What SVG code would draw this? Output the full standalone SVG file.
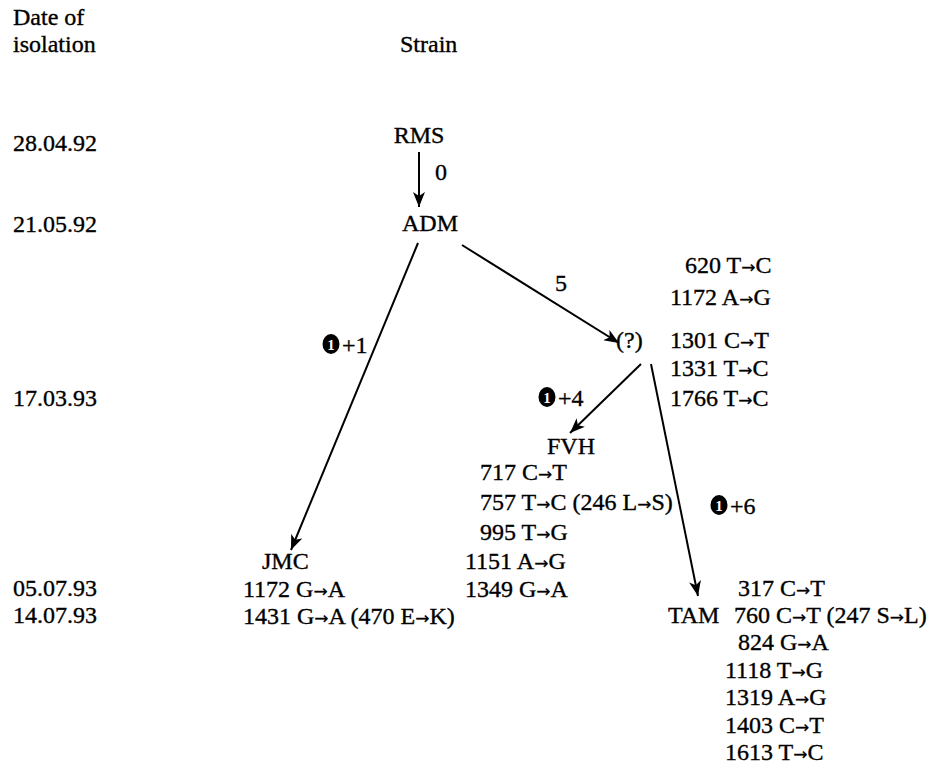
<svg xmlns="http://www.w3.org/2000/svg" width="931" height="765" viewBox="0 0 931 765">
<style>
text{font-family:"Liberation Serif","Times New Roman",serif;font-size:24px;fill:#000;stroke:#000;stroke-width:0.35}
.c{text-anchor:middle}
.a{font-family:"DejaVu Sans",sans-serif;font-size:17px;stroke-width:0.2}
.e{stroke:#000;stroke-width:2;fill:none;marker-end:url(#ah)}
.dot{fill:#000}
.w{fill:#fff;stroke:none;font-size:15px;font-weight:bold;text-anchor:middle}
</style>
<defs>
<marker id="ah" markerWidth="16" markerHeight="12" refX="15" refY="6" orient="auto" markerUnits="userSpaceOnUse">
<path d="M0,0 L15,6 L0,12 L4,6 z" fill="#000"/>
</marker>
</defs>
<rect width="931" height="765" fill="#fff"/>
<g id="headers">
<text x="13" y="25">Date of</text>
<text x="13" y="52">isolation</text>
<text x="400" y="52">Strain</text>
</g>
<g id="dates">
<text x="13" y="151">28.04.92</text>
<text x="13" y="232">21.05.92</text>
<text x="13" y="406">17.03.93</text>
<text x="13" y="596">05.07.93</text>
<text x="13" y="623">14.07.93</text>
</g>
<g id="connectors">
<line class="e" x1="419" y1="152" x2="419" y2="207"/>
<line class="e" x1="418" y1="243" x2="291" y2="550"/>
<line class="e" x1="462" y1="245" x2="619" y2="343"/>
<line class="e" x1="641" y1="364" x2="570" y2="433"/>
<line class="e" x1="651" y1="364" x2="698" y2="596"/>
<text x="435" y="180">0</text>
<text x="555" y="291">5</text>
<g id="lbl1"><ellipse class="dot" cx="331" cy="344" rx="8.5" ry="10"/><text class="w" x="331" y="350">1</text><text x="342" y="353">+1</text></g>
<g id="lbl4"><ellipse class="dot" cx="547" cy="397" rx="8.5" ry="10"/><text class="w" x="547" y="403">1</text><text x="558" y="406">+4</text></g>
<g id="lbl6"><ellipse class="dot" cx="719" cy="505" rx="8.5" ry="10"/><text class="w" x="719" y="511">1</text><text x="730" y="514">+6</text></g>
</g>
<g id="RMS"><text class="c" x="419" y="143">RMS</text></g>
<g id="ADM"><text class="c" x="430" y="231">ADM</text></g>
<g id="Q"><text x="616" y="348">(?)</text>
<text x="685" y="273">620 T<tspan class="a">→</tspan>C</text>
<text x="670" y="305">1172 A<tspan class="a">→</tspan>G</text>
<text x="670" y="348">1301 C<tspan class="a">→</tspan>T</text>
<text x="670" y="376">1331 T<tspan class="a">→</tspan>C</text>
<text x="670" y="406">1766 T<tspan class="a">→</tspan>C</text>
</g>
<g id="FVH"><text class="c" x="571" y="454">FVH</text>
<text x="480" y="480">717 C<tspan class="a">→</tspan>T</text>
<text x="480" y="510">757 T<tspan class="a">→</tspan>C (246 L<tspan class="a">→</tspan>S)</text>
<text x="480" y="540">995 T<tspan class="a">→</tspan>G</text>
<text x="465" y="569">1151 A<tspan class="a">→</tspan>G</text>
<text x="465" y="597">1349 G<tspan class="a">→</tspan>A</text>
</g>
<g id="JMC"><text x="262" y="569">JMC</text>
<text x="243" y="597">1172 G<tspan class="a">→</tspan>A</text>
<text x="243" y="624">1431 G<tspan class="a">→</tspan>A (470 E<tspan class="a">→</tspan>K)</text>
</g>
<g id="TAM"><text x="668" y="623">TAM</text>
<text x="738" y="596">317 C<tspan class="a">→</tspan>T</text>
<text x="734" y="623">760 C<tspan class="a">→</tspan>T (247 S<tspan class="a">→</tspan>L)</text>
<text x="738" y="650">824 G<tspan class="a">→</tspan>A</text>
<text x="725" y="678">1118 T<tspan class="a">→</tspan>G</text>
<text x="725" y="705">1319 A<tspan class="a">→</tspan>G</text>
<text x="725" y="733">1403 C<tspan class="a">→</tspan>T</text>
<text x="725" y="760">1613 T<tspan class="a">→</tspan>C</text>
</g>
</svg>
